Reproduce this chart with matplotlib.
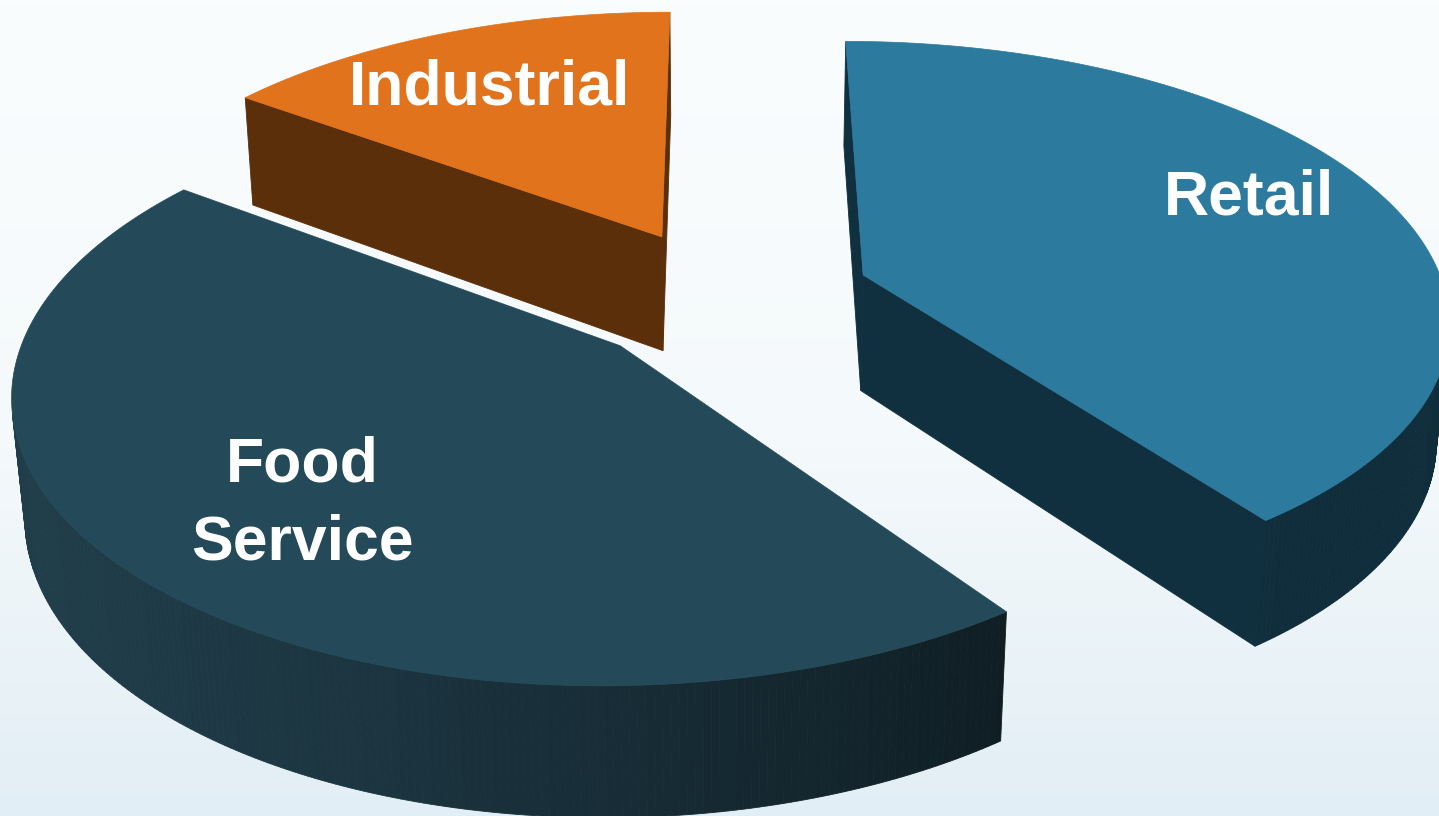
import numpy as np
import matplotlib.pyplot as plt
from matplotlib.colors import to_rgb, LinearSegmentedColormap

# Market segments, share of volume in percent (counter-clockwise from 12 o'clock)
segments = ['Industrial', 'Food Service', 'Retail']
labels = ['Industrial', 'Food\nService', 'Retail']
shares = [15, 45, 40]

top_colors = ['#e0731c', '#244a59', '#2c7a9e']
side_colors = ['#5a2f0a', '#203d4a', '#11303f']
side_shading = [0.0, 1.0, 0.1]

# label placement on each slice: turn from the mid angle (deg), distance from apex
label_turn = [1.5, 1.7, 5.0]
label_dist = [0.72, 0.695, 0.77]

W, H = 1439, 816

# camera / pie geometry (pie radius = 1)
elev = np.radians(28.0)
cam_dist = 6.0
focal = 3500.0
cx, cy = 726.0, 296.0
explode = 0.25
thick = 0.23
start = 90.0

sin_e, cos_e = np.sin(elev), np.cos(elev)
cam = np.array([0.0, -cam_dist * cos_e, cam_dist * sin_e])


def depth(x, y, z):
    return cam_dist + y * cos_e - z * sin_e


def project(x, y, z):
    zc = depth(x, y, z)
    return cx + focal * x / zc, cy - focal * (y * sin_e + z * cos_e) / zc


def facing(px, py, nx, ny):
    return (cam[0] - px) * nx + (cam[1] - py) * ny > 0


def shade(color, phi, k):
    b = 0.6 + 0.4 * np.cos(np.radians(phi - 200.0))
    f = 1.0 - k * (1.0 - b)
    return tuple(np.clip(np.array(to_rgb(color)) * f, 0, 1))


fig = plt.figure(figsize=(W / 100, H / 100), dpi=100)
ax = fig.add_axes([0, 0, 1, 1])
ax.set_xlim(0, W)
ax.set_ylim(H, 0)
ax.axis('off')

bg = LinearSegmentedColormap.from_list(
    'bg', [(0, '#fafdfe'), (0.55, '#f4f9fb'), (1, '#e2eef5')])
ax.imshow(np.linspace(0, 1, 256)[:, None], cmap=bg, extent=(0, W, H, 0),
          aspect='auto', zorder=0)

edges = start + 360 * np.concatenate([[0], np.cumsum(shares)]) / sum(shares)
pieces = []
for i in range(len(shares)):
    a0, a1 = edges[i], edges[i + 1]
    mid = np.radians((a0 + a1) / 2)
    ox, oy = explode * np.cos(mid), explode * np.sin(mid)
    pieces.append((depth(ox, oy, 0), i, a0, a1, ox, oy))
pieces.sort(reverse=True)   # far slices first

for n, (_, i, a0, a1, ox, oy) in enumerate(pieces):
    zo = 2 + 2 * n
    walls = []
    t = np.radians(np.linspace(a0, a1, 241))
    # curved outer wall
    for j in range(len(t) - 1):
        tm = (t[j] + t[j + 1]) / 2
        px, py = ox + np.cos(tm), oy + np.sin(tm)
        if not facing(px, py, np.cos(tm), np.sin(tm)):
            continue
        tt = np.array([t[j], t[j + 1], t[j + 1], t[j]])
        xs, ys = ox + np.cos(tt), oy + np.sin(tt)
        zs = np.array([0, 0, -thick, -thick])
        walls.append((depth(px, py, -thick / 2), xs, ys, zs,
                      shade(side_colors[i], np.degrees(tm), side_shading[i])))
    # flat cut walls
    for a, sgn in ((np.radians(a0), 1), (np.radians(a1), -1)):
        nx, ny = sgn * np.sin(a), -sgn * np.cos(a)
        px, py = ox + 0.5 * np.cos(a), oy + 0.5 * np.sin(a)
        if not facing(px, py, nx, ny):
            continue
        xs = np.array([ox, ox + np.cos(a), ox + np.cos(a), ox])
        ys = np.array([oy, oy + np.sin(a), oy + np.sin(a), oy])
        zs = np.array([0, 0, -thick, -thick])
        walls.append((depth(px, py, -thick / 2), xs, ys, zs,
                      shade(side_colors[i], np.degrees(np.arctan2(ny, nx)),
                            side_shading[i])))
    walls.sort(key=lambda w: -w[0])
    for _, xs, ys, zs, col in walls:
        u, v = project(xs, ys, zs)
        ax.fill(u, v, color=col, ec=col, lw=0.6, zorder=zo)

    # top face
    u, v = project(np.r_[ox, ox + np.cos(t)], np.r_[oy, oy + np.sin(t)], 0.0)
    ax.fill(u, v, color=top_colors[i], ec=top_colors[i], lw=0.5, zorder=zo + 1)

    la = np.radians((a0 + a1) / 2 + label_turn[i])
    lu, lv = project(ox + label_dist[i] * np.cos(la),
                     oy + label_dist[i] * np.sin(la), 0.0)
    ax.text(lu, lv, labels[i], ha='center', va='center', color='white',
            fontsize=45, fontweight='bold', family='Liberation Sans',
            linespacing=1.40, zorder=20)

fig.savefig('out.png', dpi=100)
